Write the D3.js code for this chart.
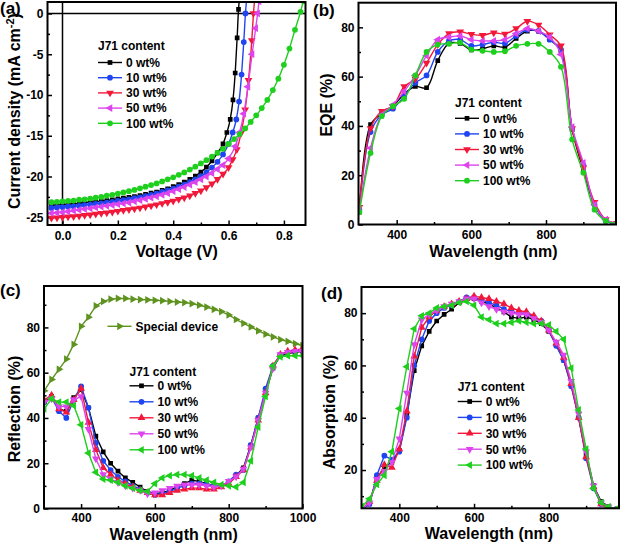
<!doctype html>
<html lang="en">
<head>
<meta charset="utf-8">
<title>J71 content: J-V, EQE, reflection, absorption</title>
<script src="https://d3js.org/d3.v7.min.js"></script>
<style>
  body { margin: 0; background: #fff; }
  svg { display: block; }
  text { font-family: "Liberation Sans", Arial, sans-serif; font-weight: bold; fill: #000; }
</style>
</head>
<body>
<div id="chart"></div>
<script>
// ---------- data ----------
const contentLabels = ["0 wt%", "10 wt%", "30 wt%", "50 wt%", "100 wt%"];

// (a) J-V, shared voltage grid for the flat part, then each curve's own tail
const jvGrid = [-0.04,-0.02,0,0.02,0.04,0.06,0.08,0.10,0.12,0.14,0.16,0.18,0.20,0.22,0.24,0.26,0.28,0.30,0.32,0.34,0.36,0.38,0.40,0.42,0.44,0.46,0.48,0.50,0.52,0.54,0.56,0.58];
const jv0 = [-23.55,-23.5,-23.45,-23.4,-23.35,-23.3,-23.2,-23.15,-23.1,-23.0,-22.95,-22.85,-22.75,-22.65,-22.55,-22.45,-22.35,-22.2,-22.05,-21.9,-21.7,-21.5,-21.25,-21.0,-20.7,-20.35,-19.95,-19.45,-18.85,-18.1,-17.1,-16.0];
const jv0TailV = [0.594,0.606,0.616,0.624,0.631,0.636,0.64];
const jv0TailJ = [-14.6,-13.0,-10.6,-7.3,-3.0,0.5,2];
const jv10 = [-23.85,-23.8,-23.75,-23.7,-23.65,-23.6,-23.5,-23.45,-23.35,-23.3,-23.2,-23.1,-23.0,-22.9,-22.8,-22.65,-22.55,-22.4,-22.25,-22.1,-21.9,-21.7,-21.5,-21.25,-21.0,-20.7,-20.35,-19.95,-19.5,-18.9,-18.2,-17.3];
const jv10TailV = [0.60,0.615,0.628,0.638,0.647,0.655,0.661,0.666];
const jv10TailJ = [-16.0,-14.6,-13.0,-10.8,-7.5,-3.5,0,2];
const jv30 = [-25.1,-25.05,-25.0,-24.95,-24.9,-24.85,-24.75,-24.7,-24.6,-24.5,-24.45,-24.35,-24.25,-24.15,-24.05,-23.95,-23.85,-23.7,-23.6,-23.45,-23.3,-23.15,-23.0,-22.8,-22.6,-22.35,-22.05,-21.75,-21.35,-20.9,-20.35,-19.7];
const jv30TailV = [0.60,0.615,0.63,0.645,0.66,0.672,0.684,0.69,0.695];
const jv30TailJ = [-18.9,-17.9,-16.7,-14.7,-11.8,-8.2,-3.3,0,2];
const jv50 = [-24.5,-24.45,-24.4,-24.3,-24.2,-24.1,-24.0,-23.9,-23.8,-23.7,-23.6,-23.5,-23.4,-23.3,-23.2,-23.05,-22.9,-22.75,-22.6,-22.45,-22.25,-22.05,-21.8,-21.55,-21.3,-21.0,-20.7,-20.35,-20.0,-19.6,-19.1,-18.6];
const jv50TailV = [0.60,0.624,0.64,0.655,0.67,0.685,0.698,0.705,0.71];
const jv50TailJ = [-17.8,-16.3,-14.6,-12.3,-9.0,-5.0,-1.8,0,1.5];
const jv100 = [-23.15,-23.1,-23.05,-23.0,-22.95,-22.85,-22.8,-22.7,-22.6,-22.5,-22.35,-22.25,-22.1,-21.95,-21.8,-21.65,-21.45,-21.25,-21.05,-20.85,-20.6,-20.35,-20.1,-19.8,-19.5,-19.15,-18.8,-18.4,-18.0,-17.55,-17.1,-16.6];
const jv100TailV = [0.60,0.62,0.64,0.66,0.68,0.70,0.72,0.74,0.76,0.78,0.80,0.82,0.84,0.86,0.87];
const jv100TailJ = [-16.0,-15.4,-14.8,-14.1,-13.3,-12.5,-11.6,-10.6,-9.4,-8.0,-6.3,-4.3,-2.0,0.2,1.5];

// (b) EQE
const eqeWl = [300,330,360,390,420,450,480,510,540,570,600,630,660,690,720,750,780,810,840,870,900,930,960,990];
const eqe0 = [5,40.5,45,48,53,56,55.5,66.5,73.5,73.5,70.8,71.3,72.5,72,75.5,78.5,78.5,75,70.5,38.5,22,8,1.5,0.5];
const eqe10 = [6,37.5,44.5,47,52,57.5,60.5,70,74.5,75,72.5,73,74,73.5,76.5,79,78.5,75,71,39,24,8,1.5,0.5];
const eqe30 = [7,39,46,48,56,59,65.5,73,77.5,78.2,77.2,76.8,77.8,77.3,79.5,82.5,81,77,72.5,39,23,9,2,0.5];
const eqe50 = [6,31,44.5,48.5,54,60.5,68.5,75,76,76.5,75,74.5,74.5,75,77.5,79.5,78.5,76,69,39.5,25,8,2,0.5];
const eqe100 = [5,29,44,48,51,60.5,70,73,73.3,73.8,71,70.5,70,70.3,72.5,73.3,73.3,70,64,34.5,21,6,1.5,0.5];

// (c) reflection
const reflWl = [300,320,340,360,380,400,420,440,460,480,500,520,540,560,580,600,620,640,660,680,700,720,740,760,780,800,820,840,860,880,900,920,940,960,980,1000];
const reflSpecial = [52,57,61.5,66,72.5,80.5,84.5,89.5,91.5,92.5,92.8,92.8,92.5,92.3,92.2,92.0,91.8,91.5,91.2,91,90.5,89.8,89,88,87,85.5,83.5,81.8,80.2,78.5,77,75.8,74.6,73.8,72.8,72];
const refl0 = [47,49.5,44,43,49,52.5,44.5,32,25,20,16.5,13.5,11.5,9.5,7.5,6.5,7,8,9.5,11,12.5,12,11,10,10,11,14.5,18,28,40,51,62,67.5,68.5,69,69.5];
const refl10 = [47,49,43,40,48,54,44.5,29,21,17,14,12,10,8.5,7,6,6.5,7.5,9,10,11,11,10.5,10,10,12,15,17,28,40,53,63,68,69,69.5,70];
const refl30 = [48,50,44,42.5,48,53,38,26,18,15,12.5,11,9.5,8,7,6,6,7,8,8.5,9,9,8.5,8.5,9.5,11,14,17,27,39,51,63,68,69.5,70,70.5];
const refl50 = [47,48.5,45,45,48,49.5,35,22,15,13,11.5,10,9,8,6.5,7,8,9,10,10.5,10.5,10.5,10,9.5,10,12,14,17.5,27,39,51,62,68,69,69.5,69.5];
const refl100 = [44,48.5,47,47,45.5,37,24.5,16,13,12.5,11.5,10,9,8,7.5,11,13.5,14.5,15,15,14.5,13.5,12.5,11.5,10.5,10,9.5,11.5,21,36,49.5,63,67,67.5,67.5,67.5];

// (d) absorption
const absWl = [300,320,340,360,380,400,420,440,460,480,500,520,540,560,580,600,620,640,660,680,700,720,740,760,780,800,820,840,860,880,900,920,940,960,980];
const abs0 = [5,7,17,21,23,27.5,41,58,67.5,73,77,79.5,81.5,84,85.5,85.5,84.5,83.5,82,80.5,78.5,78,78.5,77.5,76,73,68,62,53,40,26,14,8,6,5];
const abs10 = [5,7,18,25.5,24,27,40,60,70,77,80,82,83,84.5,86,86,85,84,83,81.5,80.5,80,80,78.5,77,73.5,67.5,62,52,40,24.5,13,7,5.5,5];
const abs30 = [5,8,16,22,21,28,42.5,63.5,74.5,78.5,81,82.5,83.5,84.5,85.5,86.5,86,85.5,84.5,83.5,82,81,80.5,79,77,73.5,68.5,63,53,40,25,13.5,7,5,4.5];
const abs50 = [5,7.5,16.5,19.5,23,32,49.5,68,77.5,79.5,81,82.5,83.5,84.5,85.5,85.5,84,82.5,81.5,80.5,80,79.5,79.5,78,76.5,73.5,69,64,54,41.5,27,14,7.5,6,5];
const abs100 = [6,9,14.5,18,27,43.5,59.5,74,79,80,82,82.5,83,84,84.5,83,78.5,77.5,76,76,76.5,77,76.5,76,76,75.5,73,70,59,43,28,13,7.5,6,5];

// ---------- style ----------
const colors = ["#000000", "#1f45f2", "#f2183a", "#dd44ee", "#1ecf1e"];
const olive = "#5f9320";
const shapes = {
  square: { type: d3.symbolSquare, size: 22, rot: 0 },
  circle: { type: d3.symbolCircle, size: 26, rot: 0 },
  up:     { type: d3.symbolTriangle, size: 26, rot: 0 },
  down:   { type: d3.symbolTriangle, size: 26, rot: 180 },
  left:   { type: d3.symbolTriangle, size: 26, rot: -90 },
  right:  { type: d3.symbolTriangle, size: 26, rot: 90 }
};
const shapesTop = ["square", "circle", "down", "left", "circle"];
const shapesBottom = ["square", "circle", "up", "down", "left"];

const svg = d3.select("#chart").append("svg").attr("width", 623).attr("height", 548);

function cleanAxis(sel) {
  sel.select(".domain").remove();
  sel.attr("font-family", null).attr("font-size", 12);
  sel.selectAll(".tick line").attr("stroke", "#000").attr("stroke-width", 1.5);
  sel.selectAll(".tick text").attr("fill", "#000");
}

function panel(id, box, xDom, yDom, t) {
  const g = svg.append("g").attr("transform", `translate(${box.left},${box.top})`);
  const x = d3.scaleLinear().domain(xDom).range([0, box.w]);
  const y = d3.scaleLinear().domain(yDom).range([box.h, 0]);
  g.append("clipPath").attr("id", id).append("rect").attr("width", box.w).attr("height", box.h);

  g.append("g").attr("transform", `translate(0,${box.h})`)
    .call(d3.axisBottom(x).tickValues(t.xMajor).tickSize(-4.5).tickPadding(t.xPad).tickFormat(t.xFmt))
    .call(cleanAxis);
  g.append("g").attr("transform", `translate(0,${box.h})`)
    .call(d3.axisBottom(x).tickValues(t.xMinor).tickSize(-2.5).tickFormat(""))
    .call(cleanAxis);
  g.append("g")
    .call(d3.axisLeft(y).tickValues(t.yMajor).tickSize(-4.5).tickPadding(4).tickFormat(t.yFmt))
    .call(cleanAxis);
  g.append("g")
    .call(d3.axisLeft(y).tickValues(t.yMinor).tickSize(-2.5).tickFormat(""))
    .call(cleanAxis);

  const layer = g.append("g").attr("clip-path", `url(#${id})`);
  const frame = () => g.append("rect").attr("width", box.w).attr("height", box.h)
    .attr("fill", "none").attr("stroke", "#000").attr("stroke-width", 2);
  return { g, x, y, layer, frame };
}

function series(p, xs, ys, color, shapeKey, curve) {
  const pts = xs.map((v, i) => [v, ys[i]]);
  const s = shapes[shapeKey];
  p.layer.append("path").datum(pts)
    .attr("fill", "none").attr("stroke", color).attr("stroke-width", 1.4)
    .attr("d", d3.line().x(d => p.x(d[0])).y(d => p.y(d[1])).curve(curve));
  p.layer.append("g").selectAll("path").data(pts).join("path")
    .attr("d", d3.symbol(s.type, s.size)())
    .attr("transform", d => `translate(${p.x(d[0])},${p.y(d[1])}) rotate(${s.rot})`)
    .attr("fill", color);
}

function legendRow(x0, cy, len, color, shapeKey, label) {
  const s = shapes[shapeKey];
  svg.append("line").attr("x1", x0).attr("x2", x0 + len).attr("y1", cy).attr("y2", cy)
    .attr("stroke", color).attr("stroke-width", 1.4);
  svg.append("path").attr("d", d3.symbol(s.type, s.size)())
    .attr("transform", `translate(${x0 + len / 2},${cy}) rotate(${s.rot})`).attr("fill", color);
  svg.append("text").attr("x", x0 + len + 4).attr("y", cy + 4.3).attr("font-size", 12).text(label);
}

function legend(x0, headerY, rowY, rowDy, len, shapeKeys) {
  svg.append("text").attr("x", x0).attr("y", headerY).attr("font-size", 12).text("J71 content");
  contentLabels.forEach((lab, i) => legendRow(x0, rowY + i * rowDy, len, colors[i], shapeKeys[i], lab));
}

function label(txt, x, y, size) {
  return svg.append("text").attr("x", x).attr("y", y).attr("font-size", size).text(txt);
}
function vLabel(txt, x, y) {
  return svg.append("text").attr("transform", `translate(${x},${y}) rotate(-90)`)
    .attr("text-anchor", "middle").attr("font-size", 16).text(txt);
}

// ---------- (a) J-V ----------
const pa = panel("clipA", { left: 47.5, top: 2, w: 258, h: 223 }, [-0.0542, 0.878], [-25.95, 1.41], {
  xMajor: [0, 0.2, 0.4, 0.6, 0.8], xMinor: [0.1, 0.3, 0.5, 0.7], xFmt: d3.format(".1f"), xPad: 6,
  yMajor: [-25, -20, -15, -10, -5, 0], yMinor: [-22.5, -17.5, -12.5, -7.5, -2.5], yFmt: d => String(d)
});
pa.layer.append("line").attr("x1", 0).attr("x2", 258).attr("y1", pa.y(0)).attr("y2", pa.y(0))
  .attr("stroke", "#000").attr("stroke-width", 1.5);
pa.layer.append("line").attr("x1", pa.x(0)).attr("x2", pa.x(0)).attr("y1", 0).attr("y2", 223)
  .attr("stroke", "#000").attr("stroke-width", 1.5);
const jvSets = [
  [jv0, jv0TailV, jv0TailJ], [jv10, jv10TailV, jv10TailJ], [jv30, jv30TailV, jv30TailJ],
  [jv50, jv50TailV, jv50TailJ], [jv100, jv100TailV, jv100TailJ]
];
jvSets.forEach((s, i) => series(pa, jvGrid.concat(s[1]), s[0].concat(s[2]), colors[i], shapesTop[i], d3.curveMonotoneX));
pa.frame();
legend(98, 49.5, 62.5, 15.2, 24, shapesTop);

// ---------- (b) EQE ----------
const pb = panel("clipB", { left: 358.5, top: 2.7, w: 257.5, h: 221.8 }, [297.7, 987.5], [0, 90], {
  xMajor: [400, 600, 800], xMinor: [500, 700, 900], xFmt: d => String(d), xPad: 5.5,
  yMajor: [0, 20, 40, 60, 80], yMinor: [10, 30, 50, 70], yFmt: d => String(d)
});
[eqe0, eqe10, eqe30, eqe50, eqe100].forEach((ys, i) =>
  series(pb, eqeWl, ys, colors[i], shapesTop[i], d3.curveCatmullRom.alpha(0.5)));
pb.frame();
legend(455, 106.5, 118.3, 15.6, 24, shapesTop);

// ---------- (c) reflection ----------
const pc = panel("clipC", { left: 44, top: 286, w: 258.5, h: 222.5 }, [299.5, 1000], [0, 98.3], {
  xMajor: [400, 600, 800, 1000], xMinor: [500, 700, 900], xFmt: d => String(d), xPad: 5,
  yMajor: [0, 20, 40, 60, 80], yMinor: [10, 30, 50, 70, 90], yFmt: d => String(d)
});
series(pc, reflWl, reflSpecial, olive, "right", d3.curveLinear);
[refl0, refl10, refl30, refl50, refl100].forEach((ys, i) =>
  series(pc, reflWl, ys, colors[i], shapesBottom[i], d3.curveLinear));
pc.frame();
legendRow(107.5, 326.3, 24, olive, "right", "Special device");
legend(129.5, 375.5, 385.8, 16, 24, shapesBottom);

// ---------- (d) absorption ----------
const pd = panel("clipD", { left: 361.5, top: 287, w: 257.5, h: 221.3 }, [298.8, 988], [5.36, 90], {
  xMajor: [400, 600, 800], xMinor: [500, 700, 900], xFmt: d => String(d), xPad: 5,
  yMajor: [20, 40, 60, 80], yMinor: [10, 30, 50, 70], yFmt: d => String(d)
});
[abs0, abs10, abs30, abs50, abs100].forEach((ys, i) =>
  series(pd, absWl, ys, colors[i], shapesBottom[i], d3.curveLinear));
pd.frame();
legend(457.7, 390.5, 401.5, 15.9, 24, shapesBottom);

// ---------- titles and panel letters ----------
label("(a)", 0, 13.5, 17);
label("(b)", 313, 15.5, 17);
label("(c)", 0, 295.5, 17);
label("(d)", 321, 299, 17);

svg.append("text").attr("x", 176.7).attr("y", 256.5).attr("text-anchor", "middle").attr("font-size", 16).text("Voltage (V)");
svg.append("text").attr("x", 493.5).attr("y", 256.5).attr("text-anchor", "middle").attr("font-size", 16).text("Wavelength (nm)");
svg.append("text").attr("x", 173.7).attr("y", 540).attr("text-anchor", "middle").attr("font-size", 16).text("Wavelength (nm)");
svg.append("text").attr("x", 489).attr("y", 539).attr("text-anchor", "middle").attr("font-size", 16).text("Wavelength (nm)");

const ya = svg.append("text").attr("transform", "translate(20,111) rotate(-90)")
  .attr("text-anchor", "middle").attr("font-size", 16);
ya.append("tspan").text("Current density (mA cm");
ya.append("tspan").attr("font-size", 11).attr("dy", -6).text("-2");
ya.append("tspan").attr("dy", 6).text(")");
vLabel("EQE (%)", 332, 105);
vLabel("Reflection (%)", 19.5, 409);
vLabel("Absorption (%)", 335, 412);
</script>
</body>
</html>
